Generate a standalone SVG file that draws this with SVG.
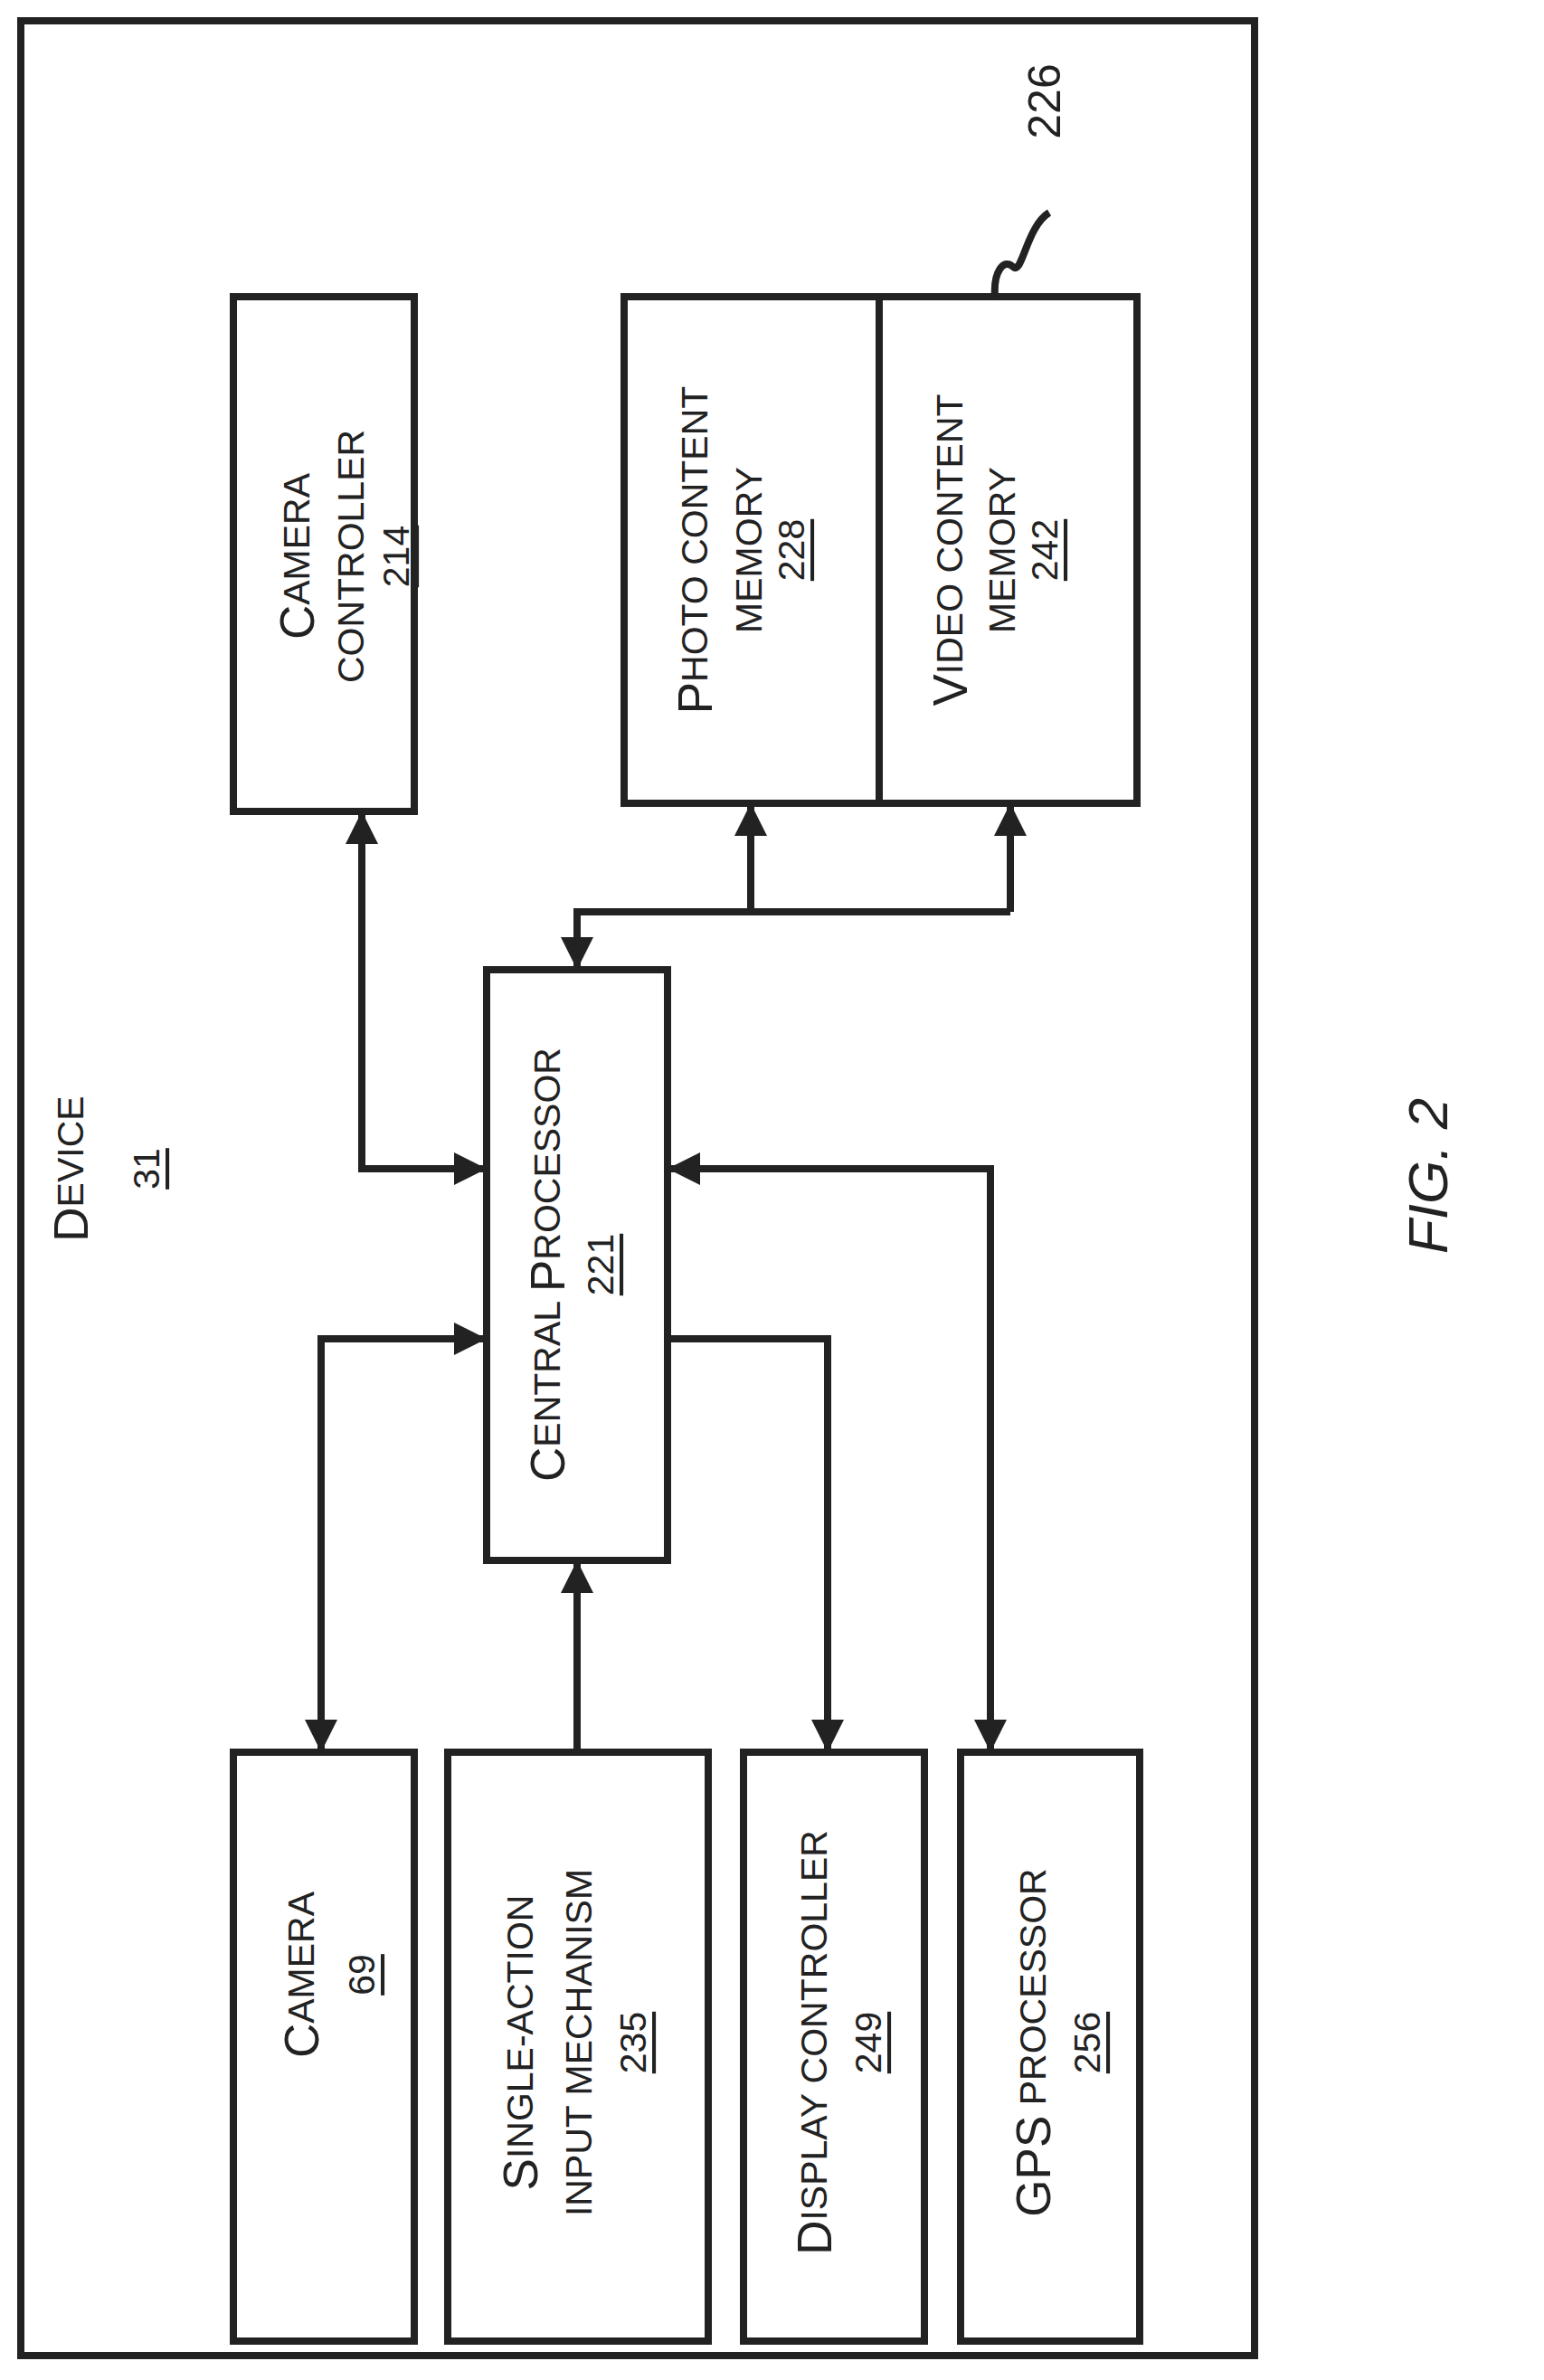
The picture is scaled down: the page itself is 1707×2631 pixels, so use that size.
<svg xmlns="http://www.w3.org/2000/svg" width="1707" height="2631" viewBox="0 0 1707 2631">
<style>
.b{fill:none;stroke:#222;stroke-width:8}
.c{fill:none;stroke:#222;stroke-width:8}
text{font-family:"Liberation Sans",Arial,sans-serif;font-size:41px;fill:#222;text-anchor:middle;dominant-baseline:central}
.u{text-decoration:underline}
.L{font-size:53px}
</style>
<defs>
<marker id="a" markerUnits="userSpaceOnUse" markerWidth="40" markerHeight="40" refX="36" refY="20" orient="auto-start-reverse" viewBox="0 0 40 40"><path d="M0,2 L36,20 L0,38 Z" fill="#222"/></marker>
</defs>
<rect width="1707" height="2631" fill="#fff"/>
<rect id="device" class="b" x="23" y="23" width="1364" height="2581"/>
<g id="device-label"><text transform="translate(78,1292) rotate(-90)"><tspan class="L">D</tspan>EVICE</text><text class="u" transform="translate(162,1292) rotate(-90)">31</text></g>
<g id="camctrl"><rect class="b" x="258" y="328" width="200" height="569"/>
<text transform="translate(328,615) rotate(-90)"><tspan class="L">C</tspan>AMERA</text>
<text transform="translate(388,615) rotate(-90)">CONTROLLER</text>
<text class="u" transform="translate(438,615) rotate(-90)">214</text></g>
<g id="memory"><rect class="b" x="690" y="328" width="567" height="560"/><line class="b" x1="972" y1="328" x2="972" y2="888"/>
<text transform="translate(768,608) rotate(-90)"><tspan class="L">P</tspan>HOTO CONTENT</text>
<text transform="translate(828,608) rotate(-90)">MEMORY</text>
<text class="u" transform="translate(875,608) rotate(-90)">228</text>
<text transform="translate(1050,608) rotate(-90)"><tspan class="L">V</tspan>IDEO CONTENT</text>
<text transform="translate(1108,608) rotate(-90)">MEMORY</text>
<text class="u" transform="translate(1155,608) rotate(-90)">242</text>
<path class="c" d="M1100,328 C1098,300 1110,285 1120,295 C1130,305 1135,250 1160,235" stroke-width="4"/>
<text transform="translate(1155,112) rotate(-90)" style="font-size:50px">226</text></g>
<g id="cp"><rect class="b" x="538" y="1072" width="200" height="653"/>
<text transform="translate(605,1398) rotate(-90)"><tspan class="L">C</tspan>ENTRAL <tspan class="L">P</tspan>ROCESSOR</text>
<text class="u" transform="translate(664,1398) rotate(-90)">221</text></g>
<g id="camera"><rect class="b" x="258" y="1937" width="200" height="651"/>
<text transform="translate(333,2183) rotate(-90)"><tspan class="L">C</tspan>AMERA</text>
<text class="u" transform="translate(400,2183) rotate(-90)">69</text></g>
<g id="single"><rect class="b" x="495" y="1937" width="288" height="651"/>
<text transform="translate(575,2258) rotate(-90)"><tspan class="L">S</tspan>INGLE-ACTION</text>
<text transform="translate(640,2258) rotate(-90)">INPUT MECHANISM</text>
<text class="u" transform="translate(700,2258) rotate(-90)">235</text></g>
<g id="display"><rect class="b" x="822" y="1937" width="200" height="651"/>
<text transform="translate(900,2258) rotate(-90)"><tspan class="L">D</tspan>ISPLAY CONTROLLER</text>
<text class="u" transform="translate(960,2258) rotate(-90)">249</text></g>
<g id="gps"><rect class="b" x="1062" y="1937" width="198" height="651"/>
<text transform="translate(1142,2258) rotate(-90)"><tspan class="L">GPS</tspan> PROCESSOR</text>
<text class="u" transform="translate(1202,2258) rotate(-90)">256</text></g>
<g id="connectors">
<path class="c" d="M400,897 V1292 H538" marker-start="url(#a)" marker-end="url(#a)"/>
<path class="c" d="M355,1937 V1480 H538" marker-start="url(#a)" marker-end="url(#a)"/>
<path class="c" d="M638,1937 V1725" marker-end="url(#a)"/>
<path class="c" d="M738,1480 H915 V1937" marker-end="url(#a)"/>
<path class="c" d="M1095,1937 V1292 H738" marker-start="url(#a)" marker-end="url(#a)"/>
<path class="c" d="M1117,1008 H638 V1072" marker-end="url(#a)"/>
<path class="c" d="M830,1008 V888" marker-end="url(#a)"/>
<path class="c" d="M1117,1008 V888" marker-end="url(#a)"/>
</g>
<text transform="translate(1578,1300) rotate(-90)" style="font-size:62px;font-style:italic">FIG. 2</text>
</svg>
